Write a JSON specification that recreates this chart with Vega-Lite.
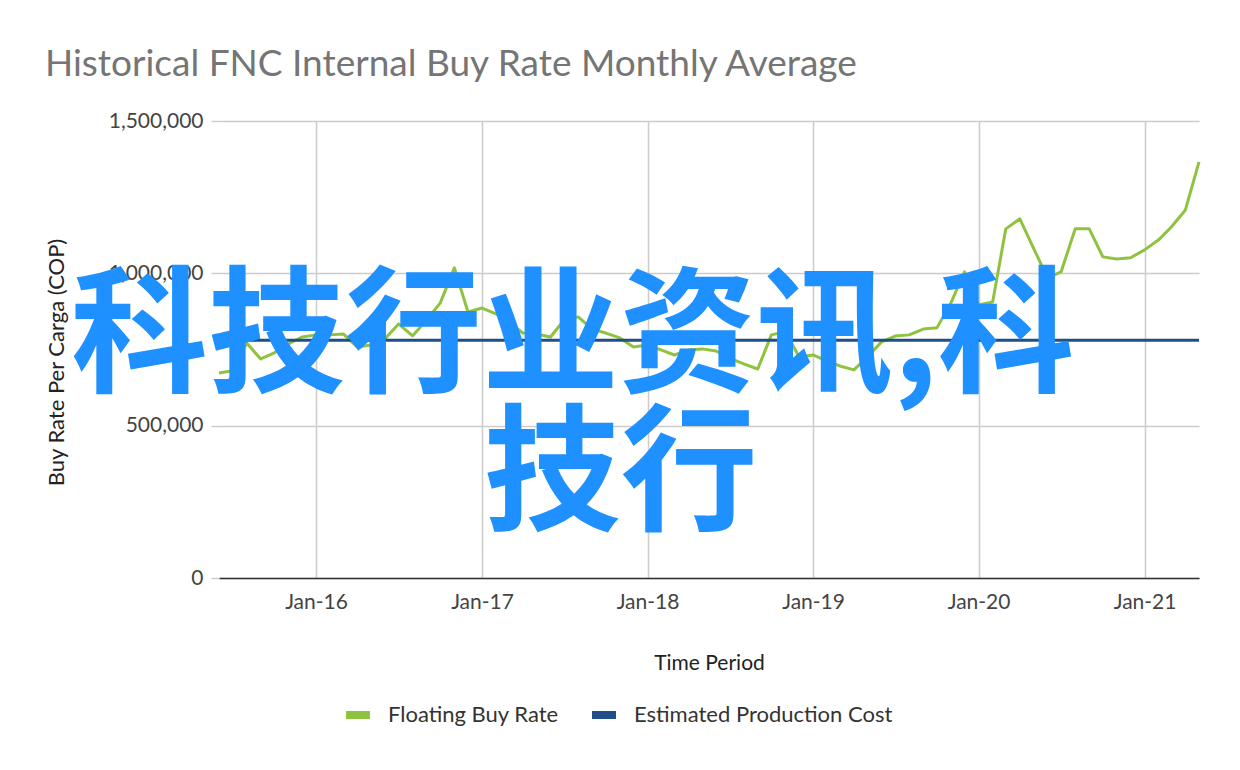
{
  "$schema": "https://vega.github.io/schema/vega-lite/v6.json",
  "autosize": "none",
  "width": 980,
  "height": 457,
  "padding": {"left": 219, "top": 121, "right": 41, "bottom": 192},
  "background": "#ffffff",
  "config": {
    "font": "Lato",
    "view": {"stroke": null}
  },
  "title": {
    "text": "Historical FNC Internal Buy Rate Monthly Average",
    "anchor": "start",
    "frame": "group",
    "dx": -174,
    "offset": -3,
    "baseline": "alphabetic",
    "font": "Lato",
    "fontSize": 37,
    "fontWeight": "normal",
    "color": "#757575"
  },
  "datasets": {
    "rates": [
      {"date": "2015-06-01", "series": "Floating Buy Rate", "value": 673000},
      {"date": "2015-07-01", "series": "Floating Buy Rate", "value": 680000},
      {"date": "2015-08-01", "series": "Floating Buy Rate", "value": 771000},
      {"date": "2015-09-01", "series": "Floating Buy Rate", "value": 719000},
      {"date": "2015-10-01", "series": "Floating Buy Rate", "value": 739000},
      {"date": "2015-11-01", "series": "Floating Buy Rate", "value": 768000},
      {"date": "2015-12-01", "series": "Floating Buy Rate", "value": 791000},
      {"date": "2016-01-01", "series": "Floating Buy Rate", "value": 798000},
      {"date": "2016-02-01", "series": "Floating Buy Rate", "value": 798000},
      {"date": "2016-03-01", "series": "Floating Buy Rate", "value": 801000},
      {"date": "2016-04-01", "series": "Floating Buy Rate", "value": 758000},
      {"date": "2016-05-01", "series": "Floating Buy Rate", "value": 765000},
      {"date": "2016-06-01", "series": "Floating Buy Rate", "value": 785000},
      {"date": "2016-07-01", "series": "Floating Buy Rate", "value": 834000},
      {"date": "2016-08-01", "series": "Floating Buy Rate", "value": 795000},
      {"date": "2016-09-01", "series": "Floating Buy Rate", "value": 847000},
      {"date": "2016-10-01", "series": "Floating Buy Rate", "value": 903000},
      {"date": "2016-11-01", "series": "Floating Buy Rate", "value": 1018000},
      {"date": "2016-12-01", "series": "Floating Buy Rate", "value": 873000},
      {"date": "2017-01-01", "series": "Floating Buy Rate", "value": 886000},
      {"date": "2017-02-01", "series": "Floating Buy Rate", "value": 867000},
      {"date": "2017-03-01", "series": "Floating Buy Rate", "value": 840000},
      {"date": "2017-04-01", "series": "Floating Buy Rate", "value": 804000},
      {"date": "2017-05-01", "series": "Floating Buy Rate", "value": 801000},
      {"date": "2017-06-01", "series": "Floating Buy Rate", "value": 791000},
      {"date": "2017-07-01", "series": "Floating Buy Rate", "value": 847000},
      {"date": "2017-08-01", "series": "Floating Buy Rate", "value": 857000},
      {"date": "2017-09-01", "series": "Floating Buy Rate", "value": 817000},
      {"date": "2017-10-01", "series": "Floating Buy Rate", "value": 804000},
      {"date": "2017-11-01", "series": "Floating Buy Rate", "value": 788000},
      {"date": "2017-12-01", "series": "Floating Buy Rate", "value": 758000},
      {"date": "2018-01-01", "series": "Floating Buy Rate", "value": 765000},
      {"date": "2018-02-01", "series": "Floating Buy Rate", "value": 748000},
      {"date": "2018-03-01", "series": "Floating Buy Rate", "value": 732000},
      {"date": "2018-04-01", "series": "Floating Buy Rate", "value": 748000},
      {"date": "2018-05-01", "series": "Floating Buy Rate", "value": 752000},
      {"date": "2018-06-01", "series": "Floating Buy Rate", "value": 745000},
      {"date": "2018-07-01", "series": "Floating Buy Rate", "value": 722000},
      {"date": "2018-08-01", "series": "Floating Buy Rate", "value": 703000},
      {"date": "2018-09-01", "series": "Floating Buy Rate", "value": 686000},
      {"date": "2018-10-01", "series": "Floating Buy Rate", "value": 798000},
      {"date": "2018-11-01", "series": "Floating Buy Rate", "value": 808000},
      {"date": "2018-12-01", "series": "Floating Buy Rate", "value": 726000},
      {"date": "2019-01-01", "series": "Floating Buy Rate", "value": 732000},
      {"date": "2019-02-01", "series": "Floating Buy Rate", "value": 712000},
      {"date": "2019-03-01", "series": "Floating Buy Rate", "value": 696000},
      {"date": "2019-04-01", "series": "Floating Buy Rate", "value": 683000},
      {"date": "2019-05-01", "series": "Floating Buy Rate", "value": 726000},
      {"date": "2019-06-01", "series": "Floating Buy Rate", "value": 775000},
      {"date": "2019-07-01", "series": "Floating Buy Rate", "value": 794000},
      {"date": "2019-08-01", "series": "Floating Buy Rate", "value": 798000},
      {"date": "2019-09-01", "series": "Floating Buy Rate", "value": 817000},
      {"date": "2019-10-01", "series": "Floating Buy Rate", "value": 821000},
      {"date": "2019-11-01", "series": "Floating Buy Rate", "value": 903000},
      {"date": "2019-12-01", "series": "Floating Buy Rate", "value": 1005000},
      {"date": "2020-01-01", "series": "Floating Buy Rate", "value": 896000},
      {"date": "2020-02-01", "series": "Floating Buy Rate", "value": 906000},
      {"date": "2020-03-01", "series": "Floating Buy Rate", "value": 1146000},
      {"date": "2020-04-01", "series": "Floating Buy Rate", "value": 1179000},
      {"date": "2020-05-01", "series": "Floating Buy Rate", "value": 1083000},
      {"date": "2020-06-01", "series": "Floating Buy Rate", "value": 985000},
      {"date": "2020-07-01", "series": "Floating Buy Rate", "value": 1005000},
      {"date": "2020-08-01", "series": "Floating Buy Rate", "value": 1146000},
      {"date": "2020-09-01", "series": "Floating Buy Rate", "value": 1146000},
      {"date": "2020-10-01", "series": "Floating Buy Rate", "value": 1054000},
      {"date": "2020-11-01", "series": "Floating Buy Rate", "value": 1047000},
      {"date": "2020-12-01", "series": "Floating Buy Rate", "value": 1051000},
      {"date": "2021-01-01", "series": "Floating Buy Rate", "value": 1077000},
      {"date": "2021-02-01", "series": "Floating Buy Rate", "value": 1110000},
      {"date": "2021-03-01", "series": "Floating Buy Rate", "value": 1152000},
      {"date": "2021-04-01", "series": "Floating Buy Rate", "value": 1208000},
      {"date": "2021-05-01", "series": "Floating Buy Rate", "value": 1366000},
      {"date": "2015-06-01", "series": "Estimated Production Cost", "value": 780000},
      {"date": "2021-05-01", "series": "Estimated Production Cost", "value": 780000}
    ],
    "watermark": [
      {"text": "科技行业资讯,科", "date": "2017-07-20", "value": 778000},
      {"text": "技行", "date": "2017-11-03", "value": 325000}
    ]
  },
  "encoding": {
    "x": {
      "field": "date",
      "type": "temporal",
      "title": "Time Period",
      "scale": {"type": "utc", "domain": [{"year": 2015, "month": 6, "date": 1, "utc": true}, {"year": 2021, "month": 5, "date": 1, "utc": true}]},
      "axis": {
        "format": "%b-%y",
        "tickCount": {"interval": "year", "step": 1},
        "grid": true,
        "gridColor": "#cccccc",
        "gridWidth": 1.5,
        "ticks": false,
        "domainColor": "#333333",
        "domainWidth": 1.5,
        "labelFont": "Lato",
        "labelFontSize": 21,
        "labelColor": "#444444",
        "labelPadding": 13,
        "titleFont": "Lato",
        "titleFontSize": 21,
        "titleFontWeight": "normal",
        "titleColor": "#222222",
        "titlePadding": 40
      }
    },
    "y": {
      "field": "value",
      "type": "quantitative",
      "title": "Buy Rate Per Carga (COP)",
      "scale": {"domain": [0, 1500000], "nice": false},
      "axis": {
        "values": [0, 500000, 1000000, 1500000],
        "format": ",.0f",
        "grid": true,
        "gridColor": "#cccccc",
        "gridWidth": 1.5,
        "domain": false,
        "ticks": true,
        "tickColor": "#cccccc",
        "tickSize": 8,
        "tickWidth": 1.5,
        "labelFont": "Lato",
        "labelFontSize": 21,
        "labelColor": "#444444",
        "labelPadding": 8,
        "titleFont": "Lato",
        "titleFontSize": 22,
        "titleFontWeight": "normal",
        "titleColor": "#222222",
        "titlePadding": 40,
        "titleY": 241
      }
    }
  },
  "layer": [
    {
      "data": {"name": "rates"},
      "transform": [{"filter": "datum.series === 'Floating Buy Rate'"}],
      "mark": {"type": "line", "strokeWidth": 3, "strokeJoin": "round"},
      "encoding": {
        "color": {
          "field": "series",
          "type": "nominal",
          "scale": {"domain": ["Floating Buy Rate", "Estimated Production Cost"], "range": ["#8fc33f", "#1f4e88"]},
          "legend": {
            "title": null,
            "orient": "none",
            "direction": "horizontal",
            "legendX": 123,
            "legendY": 578,
            "symbolType": "stroke",
            "symbolSize": 576,
            "symbolStrokeWidth": 8,
            "labelFont": "Lato",
            "labelFontSize": 22,
            "labelColor": "#333333",
            "labelOffset": 14,
            "labelLimit": 500,
            "columnPadding": 17
          }
        }
      }
    },
    {
      "data": {"name": "rates"},
      "transform": [{"filter": "datum.series === 'Estimated Production Cost'"}],
      "mark": {"type": "line", "strokeWidth": 3},
      "encoding": {
        "color": {"field": "series", "type": "nominal"}
      }
    },
    {
      "data": {"name": "watermark"},
      "mark": {"type": "text", "font": "Noto Sans CJK SC", "fontSize": 137, "fontWeight": "bold", "color": "#1e90ff", "align": "center", "baseline": "middle"},
      "encoding": {
        "text": {"field": "text"}
      }
    }
  ]
}
